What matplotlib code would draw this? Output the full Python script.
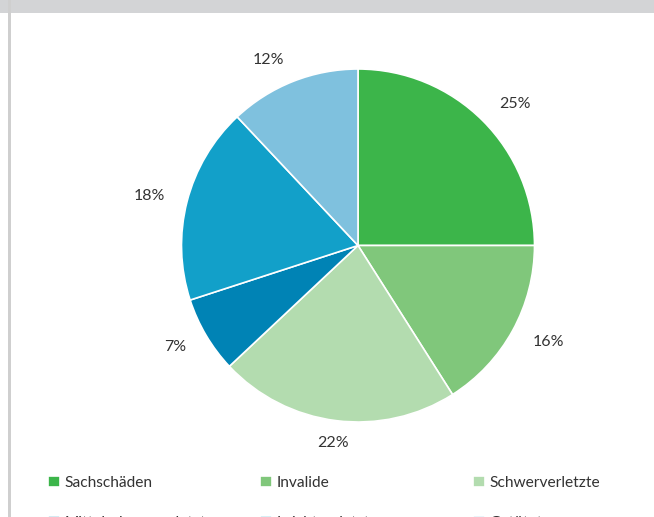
import matplotlib.pyplot as plt
from matplotlib.patches import Rectangle

categories = ["Sachschäden", "Invalide", "Schwerverletzte",
              "Mittelschwerverletzte", "Leichtverletzte", "Getötete"]
shares = [25, 16, 22, 7, 18, 12]
colors = ["#3cb54a", "#80c77b", "#b3dcaf", "#0083b5", "#12a0c9", "#7fc1de"]

plt.rcParams['font.family'] = ['Lato', 'DejaVu Sans']
text_color = "#333333"

W, H = 654, 517
fig = plt.figure(figsize=(W / 100, H / 100), dpi=100)
fig.patch.set_facecolor("white")

# grey frame bits (top band, left bar)
fig.patches.append(Rectangle((0, 1 - 13 / H), 1, 13 / H, transform=fig.transFigure,
                             facecolor="#d3d4d6", edgecolor="none", zorder=0))
fig.patches.append(Rectangle((8 / W, 0), 3 / W, 1, transform=fig.transFigure,
                             facecolor="#cfcfcf", edgecolor="none", zorder=0))

cx, cy, r = 358, 245.5, 176.5
ax = fig.add_axes([(cx - r) / W, (H - cy - r) / H, 2 * r / W, 2 * r / H])

labels = [f"{v}%" for v in shares]
wedges, texts = ax.pie(shares, colors=colors, startangle=90, counterclock=False,
                       labels=labels, labeldistance=1.13, radius=1,
                       wedgeprops=dict(edgecolor="white", linewidth=1.2),
                       textprops=dict(color=text_color, fontsize=11.5))
for t in texts:
    x, _ = t.get_position()
    if abs(x) < 0.3:
        t.set_ha("center")
ax.set_xlim(-1, 1)
ax.set_ylim(-1, 1)
ax.axis("off")

# legend: three columns, two rows (second row runs off the bottom)
col_x = [48, 260, 473]
for c, x0 in enumerate(col_x):
    fig.legend([wedges[c], wedges[c + 3]], [categories[c], categories[c + 3]],
               loc="upper left", bbox_to_anchor=(x0 / W, 1 - 476 / H),
               frameon=False, borderpad=0, borderaxespad=0,
               handlelength=0.75, handleheight=0.75, handletextpad=0.3,
               labelspacing=1.65, fontsize=11.2, labelcolor=text_color)

fig.savefig("out.png", dpi=100)
